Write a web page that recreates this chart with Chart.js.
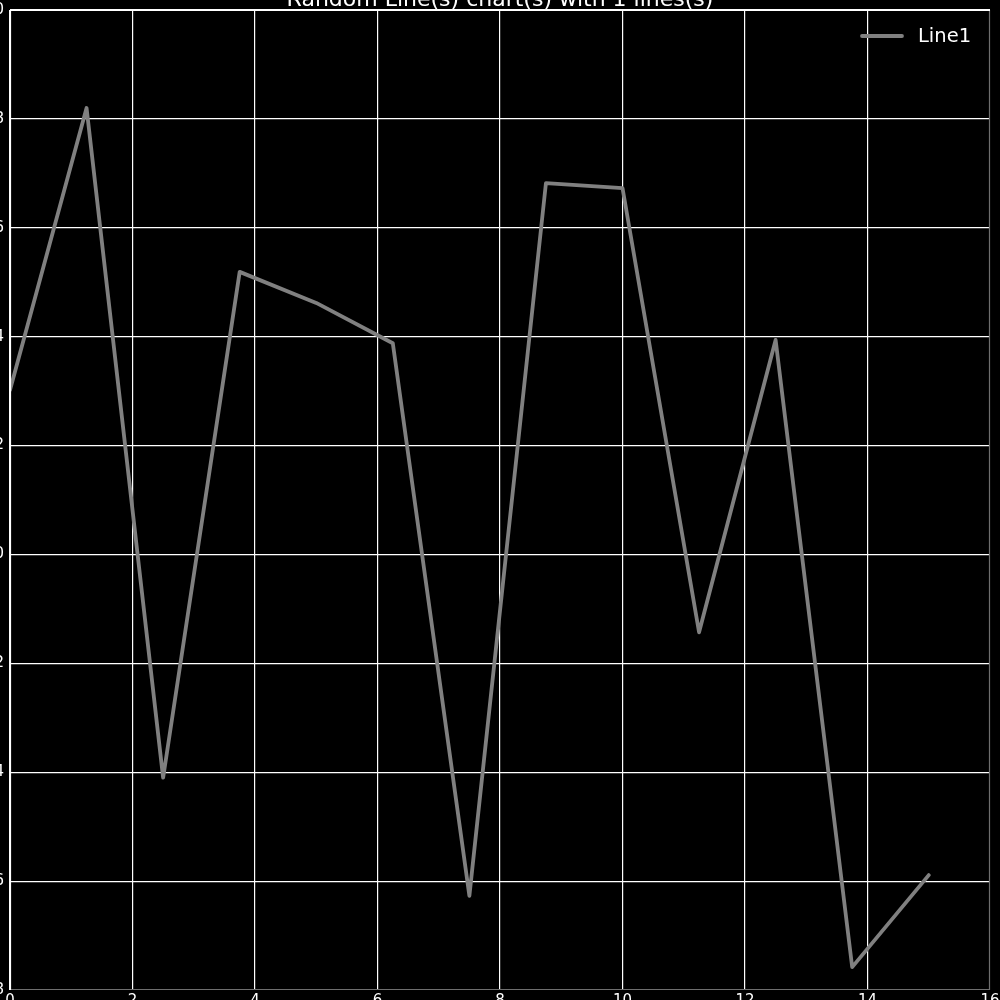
<!DOCTYPE html>
<html>
<head>
<meta charset="utf-8">
<script src="https://cdn.jsdelivr.net/npm/chart.js@4/dist/chart.umd.min.js"></script>
<style>
html,body{margin:0;padding:0;background:#000;overflow:hidden;}
#wrap{position:absolute;left:0;top:0;width:1000px;height:1000px;}
</style>
</head>
<body>
<div id="wrap"><canvas id="c" width="1000" height="1000"></canvas></div>
<script>
const titleText = "Random Line(s) chart(s) with 1 lines(s)";
const seriesName = "Line1";
const xValues = [0, 1.25, 2.5, 3.75, 5, 6.25, 7.5, 8.75, 10, 11.25, 12.5, 13.75, 15];
const yValues = [0.302, 0.820, -0.410, 0.519, 0.462, 0.388, -0.627, 0.682, 0.673, -0.143, 0.394, -0.758, -0.589];
const xTicks = [0, 2, 4, 6, 8, 10, 12, 14, 16];
const yTicks = [-0.8, -0.6, -0.4, -0.2, 0.0, 0.2, 0.4, 0.6, 0.8, 1.0];

const FONT = "'DejaVu Sans', sans-serif";
const LINE_COLOR = '#808080';

const fmtY = v => (v < 0 ? '\u2212' : '') + Math.abs(v).toFixed(1);

const overlay = {
  id: 'overlay',
  afterDraw(chart) {
    const ctx = chart.ctx;
    const a = chart.chartArea;
    const xs = chart.scales.x, ys = chart.scales.y;
    ctx.save();
    // spines
    ctx.lineWidth = 1.2;
    ctx.strokeStyle = '#6e6e6e';
    ctx.beginPath();
    ctx.moveTo(a.right - 0.5, a.top); ctx.lineTo(a.right - 0.5, a.bottom);
    ctx.moveTo(a.left, a.bottom - 0.5); ctx.lineTo(a.right, a.bottom - 0.5);
    ctx.stroke();
    ctx.strokeStyle = '#ffffff';
    ctx.beginPath();
    ctx.moveTo(a.left + 0.5, a.top); ctx.lineTo(a.left + 0.5, a.bottom);
    ctx.moveTo(a.left, a.top + 0.5); ctx.lineTo(a.right, a.top + 0.5);
    ctx.stroke();
    // tick labels
    ctx.fillStyle = '#ffffff';
    ctx.font = "15px " + FONT;
    ctx.textAlign = 'right';
    ctx.textBaseline = 'middle';
    yTicks.forEach(v => ctx.fillText(fmtY(v), a.left - 6, ys.getPixelForValue(v)));
    ctx.textAlign = 'center';
    ctx.textBaseline = 'top';
    xTicks.forEach(v => ctx.fillText(String(v), xs.getPixelForValue(v), a.bottom + 4));
    // title
    ctx.font = "22px " + FONT;
    ctx.textAlign = 'center';
    ctx.textBaseline = 'alphabetic';
    ctx.fillText(titleText, (a.left + a.right) / 2, 5.5);
    // legend
    const ds = chart.data.datasets[0];
    ctx.strokeStyle = ds.borderColor;
    ctx.lineWidth = 3.8;
    ctx.lineCap = 'round';
    ctx.beginPath();
    ctx.moveTo(862, 36); ctx.lineTo(902, 36);
    ctx.stroke();
    ctx.font = "19.5px " + FONT;
    ctx.textAlign = 'left';
    ctx.textBaseline = 'middle';
    ctx.fillText(ds.label, 918, 37);
    ctx.restore();
  }
};

new Chart(document.getElementById('c'), {
  type: 'line',
  data: {
    datasets: [{
      label: seriesName,
      data: xValues.map((x, i) => ({x: x, y: yValues[i]})),
      borderColor: LINE_COLOR,
      backgroundColor: LINE_COLOR,
      borderWidth: 3.8,
      borderJoinStyle: 'round',
      borderCapStyle: 'round',
      pointRadius: 0,
      tension: 0,
      fill: false,
      clip: {left: 0, top: 0, right: 0, bottom: 0}
    }]
  },
  options: {
    responsive: false,
    animation: false,
    devicePixelRatio: 1,
    layout: {padding: {left: 10, top: 10, right: 10, bottom: 10}},
    plugins: {legend: {display: false}, title: {display: false}, tooltip: {enabled: false}},
    scales: {
      x: {
        type: 'linear',
        min: 0, max: 16,
        afterFit(s) { s.height = 0; s.paddingLeft = 0; s.paddingRight = 0; },
        afterBuildTicks(s) { s.ticks = xTicks.map(v => ({value: v})); },
        border: {display: false},
        grid: {
          color: ctx => ctx.tick && ctx.tick.value === 16 ? 'rgba(0,0,0,0)' : '#ffffff',
          lineWidth: 1.2,
          drawTicks: false
        },
        ticks: {display: false}
      },
      y: {
        type: 'linear',
        min: -0.8, max: 1.0,
        afterFit(s) { s.width = 0; s.paddingTop = 0; s.paddingBottom = 0; },
        afterBuildTicks(s) { s.ticks = yTicks.map(v => ({value: v})); },
        border: {display: false},
        grid: {
          color: ctx => ctx.tick && Math.abs(ctx.tick.value + 0.8) < 1e-9 ? 'rgba(0,0,0,0)' : '#ffffff',
          lineWidth: 1.2,
          drawTicks: false
        },
        ticks: {display: false}
      }
    }
  },
  plugins: [overlay]
});
</script>
</body>
</html>
